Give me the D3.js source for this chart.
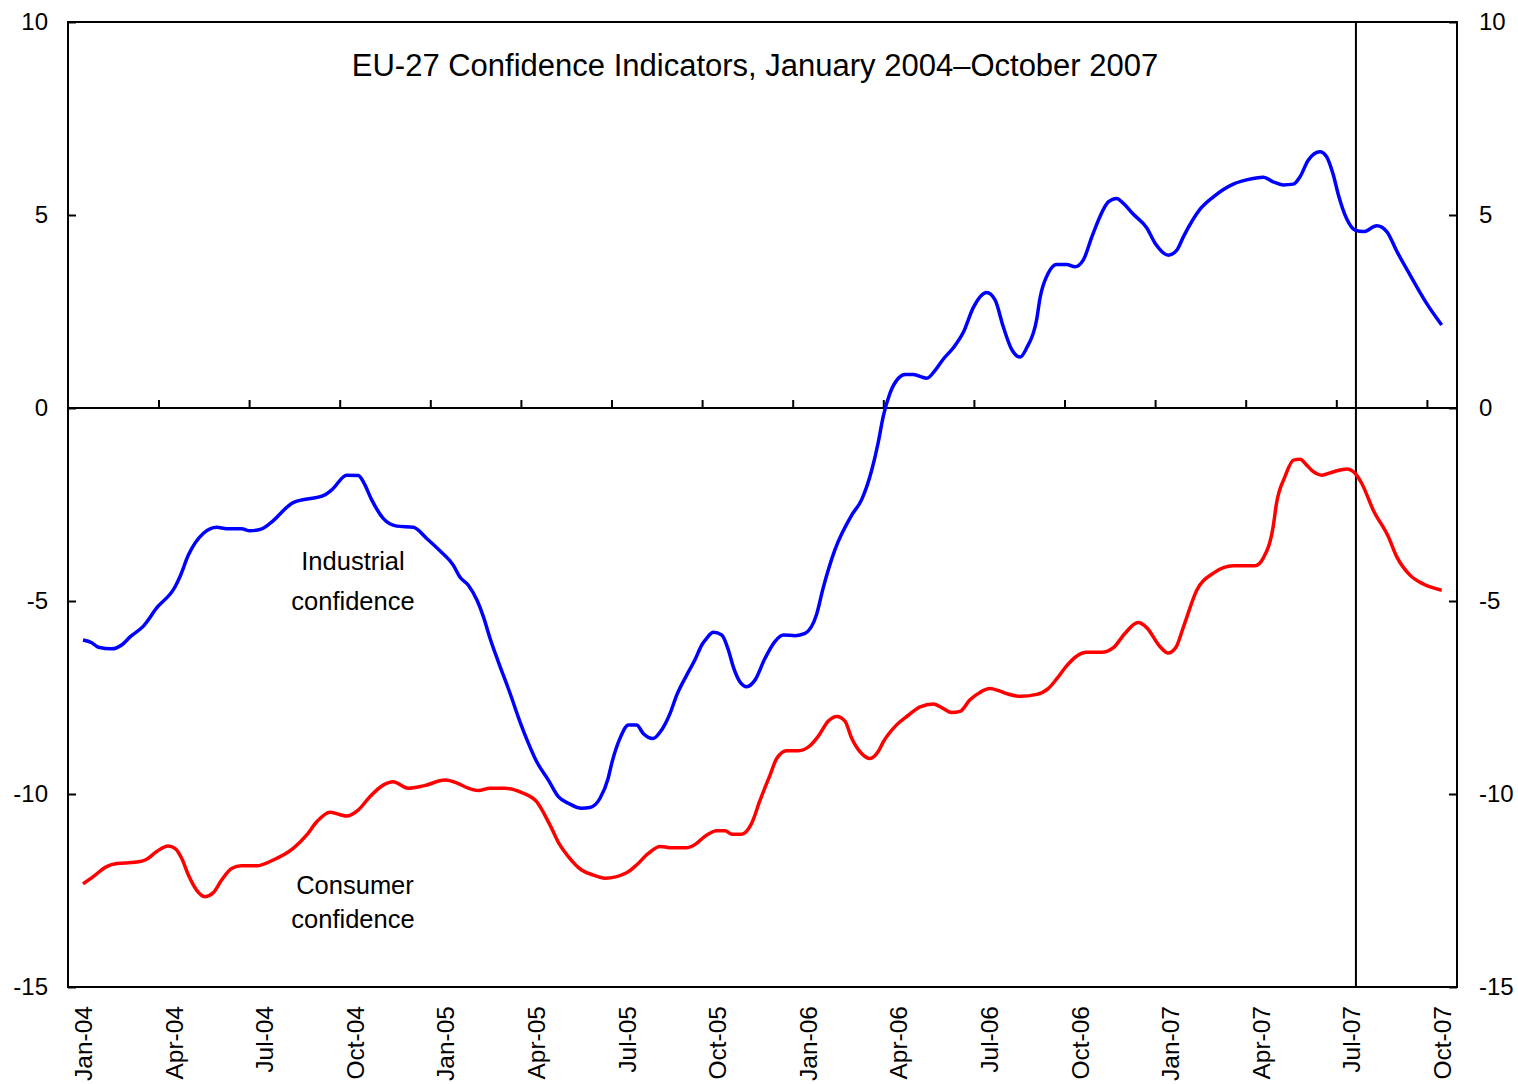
<!DOCTYPE html>
<html>
<head>
<meta charset="utf-8">
<script src="https://cdn.jsdelivr.net/npm/d3@7"></script>
<style>
	body { margin: 0; background: #fff; }
	text { font-family: "Liberation Sans", Arial, sans-serif; fill: #000; }
</style>
</head>
<body>
<div id="chart"></div>
<script>
// months since Jan-04
var industrialMonths = [0, 0.29, 0.51, 0.95, 1.28, 1.56, 2.0, 2.44, 3.05, 3.21, 3.49, 3.98, 4.43, 4.76, 5.25, 5.53, 5.92, 6.19, 6.96, 8.01, 8.24, 8.73, 9.12, 9.28, 9.56, 9.94, 10.39, 10.94, 11.38, 11.82, 12.26, 12.48, 12.76, 13.04, 13.26, 13.48, 13.75, 14.14, 14.47, 14.75, 15.02, 15.41, 15.74, 16.07, 16.51, 16.79, 17.12, 17.39, 17.51, 17.78, 18.06, 18.33, 18.55, 18.88, 19.16, 19.44, 19.66, 19.99, 20.26, 20.49, 20.65, 20.87, 21.15, 21.37, 21.53, 21.75, 21.98, 22.25, 22.58, 22.91, 23.19, 23.58, 23.91, 24.29, 24.51, 24.9, 25.45, 25.78, 26.12, 26.33, 26.5, 26.72, 27.0, 27.22, 27.49, 27.94, 28.21, 28.49, 28.82, 29.15, 29.48, 29.92, 30.2, 30.47, 30.75, 31.03, 31.25, 31.58, 31.69, 31.96, 32.24, 32.57, 32.85, 33.12, 33.4, 33.68, 33.95, 34.23, 34.45, 34.78, 35.22, 35.5, 35.94, 36.22, 36.44, 36.99, 37.43, 38.09, 38.53, 39.08, 39.41, 39.74, 40.08, 40.3, 40.57, 40.96, 41.18, 41.4, 41.57, 41.84, 42.12, 42.4, 42.84, 43.17, 43.51, 43.94, 44.49, 44.99];
var industrialValues = [-6.01, -6.08, -6.2, -6.24, -6.14, -5.93, -5.65, -5.18, -4.63, -4.37, -3.81, -3.25, -3.09, -3.13, -3.13, -3.18, -3.13, -2.99, -2.45, -2.25, -2.12, -1.74, -1.75, -1.91, -2.38, -2.86, -3.06, -3.09, -3.38, -3.7, -4.07, -4.38, -4.59, -4.97, -5.41, -5.97, -6.57, -7.39, -8.13, -8.69, -9.16, -9.64, -10.07, -10.24, -10.37, -10.35, -10.11, -9.59, -9.2, -8.56, -8.21, -8.21, -8.43, -8.56, -8.34, -7.91, -7.44, -6.92, -6.53, -6.14, -5.97, -5.81, -5.88, -6.27, -6.7, -7.09, -7.22, -7.05, -6.49, -6.05, -5.88, -5.9, -5.84, -5.35, -4.66, -3.67, -2.78, -2.38, -1.6, -0.9, -0.21, 0.38, 0.77, 0.87, 0.87, 0.77, 0.97, 1.27, 1.56, 1.96, 2.6, 2.99, 2.8, 2.11, 1.52, 1.32, 1.56, 2.3, 2.85, 3.49, 3.72, 3.72, 3.66, 3.83, 4.42, 4.97, 5.34, 5.43, 5.3, 5.02, 4.67, 4.27, 3.96, 4.09, 4.44, 5.15, 5.47, 5.8, 5.91, 5.98, 5.86, 5.78, 5.8, 5.99, 6.42, 6.64, 6.51, 6.04, 5.52, 4.91, 4.61, 4.57, 4.72, 4.57, 4.05, 3.45, 2.71, 2.15];

var consumerMonths = [0, 0.34, 0.78, 1.12, 1.72, 2.11, 2.44, 2.82, 3.05, 3.27, 3.49, 3.76, 4.04, 4.31, 4.59, 4.92, 5.25, 5.75, 6.3, 6.96, 7.41, 7.74, 8.18, 8.73, 9.12, 9.5, 9.94, 10.27, 10.77, 11.27, 11.99, 12.37, 12.76, 13.09, 13.48, 13.97, 14.58, 15.02, 15.46, 15.79, 16.07, 16.51, 16.9, 17.28, 18.0, 18.33, 18.72, 19.11, 19.44, 19.99, 20.32, 20.54, 20.98, 21.26, 21.48, 21.81, 22.14, 22.42, 22.75, 22.97, 23.3, 23.69, 24.07, 24.35, 24.68, 24.96, 25.23, 25.45, 25.78, 26.06, 26.33, 26.5, 26.94, 27.33, 27.72, 28.16, 28.49, 28.76, 29.04, 29.37, 29.7, 30.03, 30.31, 30.59, 31.03, 31.58, 31.96, 32.24, 32.57, 32.9, 33.23, 33.73, 34.12, 34.5, 34.94, 35.22, 35.66, 35.93, 36.19, 36.44, 36.88, 37.43, 38.09, 38.81, 39.08, 39.41, 39.52, 39.8, 40.08, 40.3, 40.52, 40.74, 41.02, 41.42, 41.85, 42.12, 42.34, 42.72, 43.22, 43.5, 43.94, 44.38, 44.99];
var consumerValues = [-12.33, -12.14, -11.88, -11.8, -11.77, -11.69, -11.49, -11.35, -11.41, -11.67, -12.1, -12.49, -12.66, -12.56, -12.23, -11.93, -11.86, -11.86, -11.71, -11.41, -11.06, -10.72, -10.47, -10.57, -10.41, -10.07, -9.77, -9.68, -9.85, -9.79, -9.64, -9.71, -9.85, -9.91, -9.85, -9.85, -9.98, -10.2, -10.8, -11.32, -11.62, -11.97, -12.1, -12.18, -12.04, -11.84, -11.54, -11.36, -11.39, -11.39, -11.28, -11.13, -10.95, -10.95, -11.04, -11.04, -10.76, -10.16, -9.51, -9.08, -8.88, -8.88, -8.75, -8.5, -8.11, -7.99, -8.11, -8.55, -8.95, -9.08, -8.9, -8.65, -8.21, -7.96, -7.74, -7.67, -7.79, -7.89, -7.86, -7.56, -7.37, -7.27, -7.32, -7.4, -7.47, -7.42, -7.27, -7.02, -6.68, -6.43, -6.33, -6.33, -6.21, -5.84, -5.56, -5.69, -6.18, -6.35, -6.2, -5.67, -4.72, -4.28, -4.09, -4.09, -3.89, -3.07, -2.47, -1.78, -1.35, -1.33, -1.48, -1.65, -1.74, -1.65, -1.58, -1.69, -1.95, -2.64, -3.33, -3.85, -4.33, -4.56, -4.72];

var tickLabels = ["Jan-04", "Apr-04", "Jul-04", "Oct-04", "Jan-05", "Apr-05", "Jul-05", "Oct-05", "Jan-06", "Apr-06", "Jul-06", "Oct-06", "Jan-07", "Apr-07", "Jul-07", "Oct-07"];
var yTicks = [10, 5, 0, -5, -10, -15];
var markerMonth = 42.15; // Jul-07 line

var width = 1518, height = 1084;
var frame = { left: 68, right: 1457, top: 22, bottom: 987 };

var svg = d3.select('#chart').append('svg')
	.attr('width', width)
	.attr('height', height);

var x = d3.scaleLinear().domain([0, 45]).range([83, 1442]);
var y = d3.scaleLinear().domain([-15, 10]).range([frame.bottom, frame.top]);

// frame
svg.append('rect')
	.attr('x', frame.left)
	.attr('y', frame.top)
	.attr('width', frame.right - frame.left)
	.attr('height', frame.bottom - frame.top)
	.attr('fill', 'none')
	.attr('stroke', '#000')
	.attr('stroke-width', 2);

// y ticks on both sides, pointing inwards
var leftAxis = d3.axisRight(y).tickValues(yTicks).tickSize(8).tickFormat('');
var rightAxis = d3.axisLeft(y).tickValues(yTicks).tickSize(8).tickFormat('');
svg.append('g').attr('transform', 'translate(' + frame.left + ',0)').call(leftAxis);
svg.append('g').attr('transform', 'translate(' + frame.right + ',0)').call(rightAxis);
svg.selectAll('.domain').remove();
svg.selectAll('.tick line').attr('stroke', '#000').attr('stroke-width', 2);

svg.selectAll('.ylabel-left')
	.data(yTicks)
	.enter().append('text')
	.attr('x', 48)
	.attr('y', function(d) { return y(d) + 8; })
	.attr('text-anchor', 'end')
	.attr('font-size', 24)
	.text(function(d) { return d; });

svg.selectAll('.ylabel-right')
	.data(yTicks)
	.enter().append('text')
	.attr('x', 1479)
	.attr('y', function(d) { return y(d) + 8; })
	.attr('font-size', 24)
	.text(function(d) { return d; });

// zero line with x ticks above it
svg.append('line')
	.attr('x1', frame.left)
	.attr('x2', frame.right)
	.attr('y1', y(0))
	.attr('y2', y(0))
	.attr('stroke', '#000')
	.attr('stroke-width', 2);

var xTicks = d3.range(2.5, 45, 3);
var xAxis = d3.axisTop(x).tickValues(xTicks).tickSize(8).tickFormat('');
var gx = svg.append('g').attr('transform', 'translate(0,' + y(0) + ')').call(xAxis);
gx.select('.domain').remove();
gx.selectAll('.tick line').attr('stroke', '#000').attr('stroke-width', 2);

// month labels under the frame
svg.selectAll('.xlabel')
	.data(tickLabels)
	.enter().append('text')
	.attr('transform', function(d, i) { return 'translate(' + (x(i * 3) + 9) + ',1006) rotate(-90)'; })
	.attr('text-anchor', 'end')
	.attr('font-size', 24.5)
	.text(function(d) { return d; });

// Jul-07 marker
svg.append('line')
	.attr('x1', x(markerMonth))
	.attr('x2', x(markerMonth))
	.attr('y1', frame.top)
	.attr('y2', frame.bottom)
	.attr('stroke', '#000')
	.attr('stroke-width', 2);

var line = d3.line()
	.x(function(d) { return x(d[0]); })
	.y(function(d) { return y(d[1]); })
	.curve(d3.curveMonotoneX);

svg.append('path')
	.datum(d3.zip(industrialMonths, industrialValues))
	.attr('d', line)
	.attr('fill', 'none')
	.attr('stroke', '#0000ff')
	.attr('stroke-width', 3.5)
	.attr('stroke-linejoin', 'round');

svg.append('path')
	.datum(d3.zip(consumerMonths, consumerValues))
	.attr('d', line)
	.attr('fill', 'none')
	.attr('stroke', '#ff0000')
	.attr('stroke-width', 3.5)
	.attr('stroke-linejoin', 'round');

// title and labels
svg.append('text')
	.attr('x', 755)
	.attr('y', 76)
	.attr('text-anchor', 'middle')
	.attr('font-size', 31)
	.text('EU-27 Confidence Indicators, January 2004\u2013October 2007');

var notes = [
	{ t: 'Industrial', x: 353, y: 570 },
	{ t: 'confidence', x: 353, y: 610 },
	{ t: 'Consumer', x: 355, y: 894 },
	{ t: 'confidence', x: 353, y: 928 }
];
svg.selectAll('.note')
	.data(notes)
	.enter().append('text')
	.attr('x', function(d) { return d.x; })
	.attr('y', function(d) { return d.y; })
	.attr('text-anchor', 'middle')
	.attr('font-size', 25.5)
	.text(function(d) { return d.t; });
</script>
</body>
</html>
